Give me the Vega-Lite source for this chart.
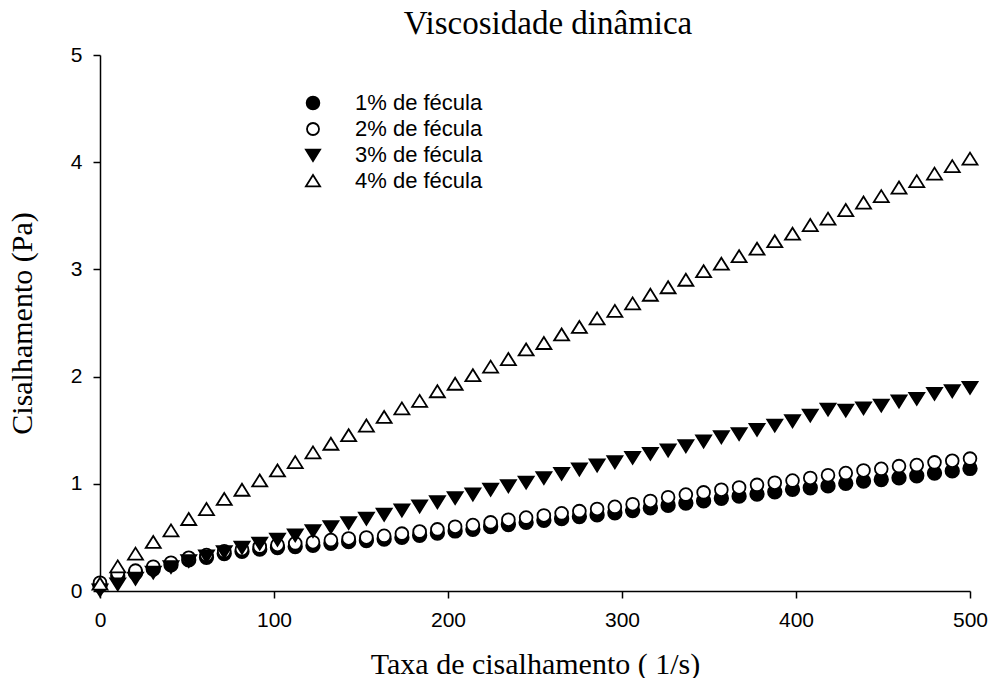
{
  "$schema": "https://vega.github.io/schema/vega-lite/v6.json",
  "autosize": "none",
  "width": 870,
  "height": 536,
  "padding": {"left": 100, "top": 55, "right": 23, "bottom": 87},
  "background": "white",
  "title": {"text": "Viscosidade dinâmica", "font": "Liberation Serif", "fontSize": 33, "fontWeight": "normal", "color": "black", "anchor": "middle", "dx": 13, "offset": 3},
  "config": {
    "view": {"stroke": null},
    "axis": {"domainColor": "black", "domainWidth": 1.5, "tickColor": "black", "tickWidth": 1.5, "tickSize": 7, "grid": false, "labelFlush": false, "labelFont": "Liberation Sans", "labelFontSize": 21, "labelColor": "black", "titleFont": "Liberation Serif", "titleFontSize": 30, "titleFontWeight": "normal", "titleColor": "black"}
  },
  "data": {"values": [
    {"x":0,"y":0.05,"s":"1% de fécula"},{"x":10.2,"y":0.14,"s":"1% de fécula"},{"x":20.4,"y":0.17,"s":"1% de fécula"},{"x":30.6,"y":0.205,"s":"1% de fécula"},{"x":40.8,"y":0.245,"s":"1% de fécula"},{"x":51.0,"y":0.29,"s":"1% de fécula"},{"x":61.2,"y":0.315,"s":"1% de fécula"},{"x":71.4,"y":0.35,"s":"1% de fécula"},{"x":81.6,"y":0.37,"s":"1% de fécula"},{"x":91.8,"y":0.39,"s":"1% de fécula"},
    {"x":102.0,"y":0.405,"s":"1% de fécula"},{"x":112.2,"y":0.415,"s":"1% de fécula"},{"x":122.4,"y":0.425,"s":"1% de fécula"},{"x":132.7,"y":0.445,"s":"1% de fécula"},{"x":142.9,"y":0.46,"s":"1% de fécula"},{"x":153.1,"y":0.47,"s":"1% de fécula"},{"x":163.3,"y":0.485,"s":"1% de fécula"},{"x":173.5,"y":0.50,"s":"1% de fécula"},{"x":183.7,"y":0.52,"s":"1% de fécula"},{"x":193.9,"y":0.54,"s":"1% de fécula"},
    {"x":204.1,"y":0.56,"s":"1% de fécula"},{"x":214.3,"y":0.575,"s":"1% de fécula"},{"x":224.5,"y":0.60,"s":"1% de fécula"},{"x":234.7,"y":0.62,"s":"1% de fécula"},{"x":244.9,"y":0.64,"s":"1% de fécula"},{"x":255.1,"y":0.66,"s":"1% de fécula"},{"x":265.3,"y":0.675,"s":"1% de fécula"},{"x":275.5,"y":0.695,"s":"1% de fécula"},{"x":285.7,"y":0.71,"s":"1% de fécula"},{"x":295.9,"y":0.73,"s":"1% de fécula"},
    {"x":306.1,"y":0.75,"s":"1% de fécula"},{"x":316.3,"y":0.775,"s":"1% de fécula"},{"x":326.5,"y":0.80,"s":"1% de fécula"},{"x":336.7,"y":0.82,"s":"1% de fécula"},{"x":346.9,"y":0.84,"s":"1% de fécula"},{"x":357.1,"y":0.865,"s":"1% de fécula"},{"x":367.3,"y":0.885,"s":"1% de fécula"},{"x":377.6,"y":0.904,"s":"1% de fécula"},{"x":387.8,"y":0.925,"s":"1% de fécula"},{"x":398.0,"y":0.948,"s":"1% de fécula"},
    {"x":408.2,"y":0.963,"s":"1% de fécula"},{"x":418.4,"y":0.98,"s":"1% de fécula"},{"x":428.6,"y":1.004,"s":"1% de fécula"},{"x":438.8,"y":1.025,"s":"1% de fécula"},{"x":449.0,"y":1.04,"s":"1% de fécula"},{"x":459.2,"y":1.056,"s":"1% de fécula"},{"x":469.4,"y":1.075,"s":"1% de fécula"},{"x":479.6,"y":1.10,"s":"1% de fécula"},{"x":489.8,"y":1.12,"s":"1% de fécula"},{"x":500.0,"y":1.143,"s":"1% de fécula"},

    {"x":0,"y":0.077,"s":"2% de fécula"},{"x":10.2,"y":0.165,"s":"2% de fécula"},{"x":20.4,"y":0.19,"s":"2% de fécula"},{"x":30.6,"y":0.227,"s":"2% de fécula"},{"x":40.8,"y":0.264,"s":"2% de fécula"},{"x":51.0,"y":0.31,"s":"2% de fécula"},{"x":61.2,"y":0.335,"s":"2% de fécula"},{"x":71.4,"y":0.37,"s":"2% de fécula"},{"x":81.6,"y":0.39,"s":"2% de fécula"},{"x":91.8,"y":0.415,"s":"2% de fécula"},
    {"x":102.0,"y":0.43,"s":"2% de fécula"},{"x":112.2,"y":0.445,"s":"2% de fécula"},{"x":122.4,"y":0.455,"s":"2% de fécula"},{"x":132.7,"y":0.475,"s":"2% de fécula"},{"x":142.9,"y":0.49,"s":"2% de fécula"},{"x":153.1,"y":0.50,"s":"2% de fécula"},{"x":163.3,"y":0.515,"s":"2% de fécula"},{"x":173.5,"y":0.535,"s":"2% de fécula"},{"x":183.7,"y":0.555,"s":"2% de fécula"},{"x":193.9,"y":0.575,"s":"2% de fécula"},
    {"x":204.1,"y":0.60,"s":"2% de fécula"},{"x":214.3,"y":0.615,"s":"2% de fécula"},{"x":224.5,"y":0.64,"s":"2% de fécula"},{"x":234.7,"y":0.665,"s":"2% de fécula"},{"x":244.9,"y":0.685,"s":"2% de fécula"},{"x":255.1,"y":0.705,"s":"2% de fécula"},{"x":265.3,"y":0.725,"s":"2% de fécula"},{"x":275.5,"y":0.745,"s":"2% de fécula"},{"x":285.7,"y":0.765,"s":"2% de fécula"},{"x":295.9,"y":0.785,"s":"2% de fécula"},
    {"x":306.1,"y":0.81,"s":"2% de fécula"},{"x":316.3,"y":0.84,"s":"2% de fécula"},{"x":326.5,"y":0.875,"s":"2% de fécula"},{"x":336.7,"y":0.90,"s":"2% de fécula"},{"x":346.9,"y":0.92,"s":"2% de fécula"},{"x":357.1,"y":0.945,"s":"2% de fécula"},{"x":367.3,"y":0.966,"s":"2% de fécula"},{"x":377.6,"y":0.99,"s":"2% de fécula"},{"x":387.8,"y":1.01,"s":"2% de fécula"},{"x":398.0,"y":1.03,"s":"2% de fécula"},
    {"x":408.2,"y":1.055,"s":"2% de fécula"},{"x":418.4,"y":1.08,"s":"2% de fécula"},{"x":428.6,"y":1.10,"s":"2% de fécula"},{"x":438.8,"y":1.125,"s":"2% de fécula"},{"x":449.0,"y":1.14,"s":"2% de fécula"},{"x":459.2,"y":1.165,"s":"2% de fécula"},{"x":469.4,"y":1.175,"s":"2% de fécula"},{"x":479.6,"y":1.20,"s":"2% de fécula"},{"x":489.8,"y":1.215,"s":"2% de fécula"},{"x":500.0,"y":1.235,"s":"2% de fécula"},

    {"x":0,"y":0.01,"s":"3% de fécula"},{"x":10.2,"y":0.065,"s":"3% de fécula"},{"x":20.4,"y":0.118,"s":"3% de fécula"},{"x":30.6,"y":0.175,"s":"3% de fécula"},{"x":40.8,"y":0.226,"s":"3% de fécula"},{"x":51.0,"y":0.282,"s":"3% de fécula"},{"x":61.2,"y":0.326,"s":"3% de fécula"},{"x":71.4,"y":0.366,"s":"3% de fécula"},{"x":81.6,"y":0.407,"s":"3% de fécula"},{"x":91.8,"y":0.445,"s":"3% de fécula"},
    {"x":102.0,"y":0.482,"s":"3% de fécula"},{"x":112.2,"y":0.522,"s":"3% de fécula"},{"x":122.4,"y":0.562,"s":"3% de fécula"},{"x":132.7,"y":0.599,"s":"3% de fécula"},{"x":142.9,"y":0.637,"s":"3% de fécula"},{"x":153.1,"y":0.678,"s":"3% de fécula"},{"x":163.3,"y":0.715,"s":"3% de fécula"},{"x":173.5,"y":0.755,"s":"3% de fécula"},{"x":183.7,"y":0.792,"s":"3% de fécula"},{"x":193.9,"y":0.832,"s":"3% de fécula"},
    {"x":204.1,"y":0.870,"s":"3% de fécula"},{"x":214.3,"y":0.904,"s":"3% de fécula"},{"x":224.5,"y":0.948,"s":"3% de fécula"},{"x":234.7,"y":0.981,"s":"3% de fécula"},{"x":244.9,"y":1.015,"s":"3% de fécula"},{"x":255.1,"y":1.056,"s":"3% de fécula"},{"x":265.3,"y":1.097,"s":"3% de fécula"},{"x":275.5,"y":1.137,"s":"3% de fécula"},{"x":285.7,"y":1.174,"s":"3% de fécula"},{"x":295.9,"y":1.205,"s":"3% de fécula"},
    {"x":306.1,"y":1.246,"s":"3% de fécula"},{"x":316.3,"y":1.283,"s":"3% de fécula"},{"x":326.5,"y":1.314,"s":"3% de fécula"},{"x":336.7,"y":1.354,"s":"3% de fécula"},{"x":346.9,"y":1.398,"s":"3% de fécula"},{"x":357.1,"y":1.438,"s":"3% de fécula"},{"x":367.3,"y":1.467,"s":"3% de fécula"},{"x":377.6,"y":1.507,"s":"3% de fécula"},{"x":387.8,"y":1.547,"s":"3% de fécula"},{"x":398.0,"y":1.587,"s":"3% de fécula"},
    {"x":408.2,"y":1.640,"s":"3% de fécula"},{"x":418.4,"y":1.696,"s":"3% de fécula"},{"x":428.6,"y":1.687,"s":"3% de fécula"},{"x":438.8,"y":1.708,"s":"3% de fécula"},{"x":449.0,"y":1.733,"s":"3% de fécula"},{"x":459.2,"y":1.771,"s":"3% de fécula"},{"x":469.4,"y":1.796,"s":"3% de fécula"},{"x":479.6,"y":1.842,"s":"3% de fécula"},{"x":489.8,"y":1.867,"s":"3% de fécula"},{"x":500.0,"y":1.898,"s":"3% de fécula"},

    {"x":0,"y":0.065,"s":"4% de fécula"},{"x":10.2,"y":0.226,"s":"4% de fécula"},{"x":20.4,"y":0.345,"s":"4% de fécula"},{"x":30.6,"y":0.454,"s":"4% de fécula"},{"x":40.8,"y":0.562,"s":"4% de fécula"},{"x":51.0,"y":0.668,"s":"4% de fécula"},{"x":61.2,"y":0.761,"s":"4% de fécula"},{"x":71.4,"y":0.855,"s":"4% de fécula"},{"x":81.6,"y":0.941,"s":"4% de fécula"},{"x":91.8,"y":1.028,"s":"4% de fécula"},
    {"x":102.0,"y":1.121,"s":"4% de fécula"},{"x":112.2,"y":1.199,"s":"4% de fécula"},{"x":122.4,"y":1.29,"s":"4% de fécula"},{"x":132.7,"y":1.37,"s":"4% de fécula"},{"x":142.9,"y":1.45,"s":"4% de fécula"},{"x":153.1,"y":1.54,"s":"4% de fécula"},{"x":163.3,"y":1.62,"s":"4% de fécula"},{"x":173.5,"y":1.70,"s":"4% de fécula"},{"x":183.7,"y":1.77,"s":"4% de fécula"},{"x":193.9,"y":1.86,"s":"4% de fécula"},
    {"x":204.1,"y":1.93,"s":"4% de fécula"},{"x":214.3,"y":2.01,"s":"4% de fécula"},{"x":224.5,"y":2.09,"s":"4% de fécula"},{"x":234.7,"y":2.16,"s":"4% de fécula"},{"x":244.9,"y":2.25,"s":"4% de fécula"},{"x":255.1,"y":2.31,"s":"4% de fécula"},{"x":265.3,"y":2.39,"s":"4% de fécula"},{"x":275.5,"y":2.46,"s":"4% de fécula"},{"x":285.7,"y":2.54,"s":"4% de fécula"},{"x":295.9,"y":2.61,"s":"4% de fécula"},
    {"x":306.1,"y":2.68,"s":"4% de fécula"},{"x":316.3,"y":2.76,"s":"4% de fécula"},{"x":326.5,"y":2.83,"s":"4% de fécula"},{"x":336.7,"y":2.90,"s":"4% de fécula"},{"x":346.9,"y":2.98,"s":"4% de fécula"},{"x":357.1,"y":3.05,"s":"4% de fécula"},{"x":367.3,"y":3.12,"s":"4% de fécula"},{"x":377.6,"y":3.19,"s":"4% de fécula"},{"x":387.8,"y":3.26,"s":"4% de fécula"},{"x":398.0,"y":3.33,"s":"4% de fécula"},
    {"x":408.2,"y":3.41,"s":"4% de fécula"},{"x":418.4,"y":3.47,"s":"4% de fécula"},{"x":428.6,"y":3.55,"s":"4% de fécula"},{"x":438.8,"y":3.62,"s":"4% de fécula"},{"x":449.0,"y":3.68,"s":"4% de fécula"},{"x":459.2,"y":3.76,"s":"4% de fécula"},{"x":469.4,"y":3.82,"s":"4% de fécula"},{"x":479.6,"y":3.89,"s":"4% de fécula"},{"x":489.8,"y":3.96,"s":"4% de fécula"},{"x":500.0,"y":4.03,"s":"4% de fécula"}
  ]},
  "mark": {"type": "point", "filled": true, "strokeWidth": 1.8, "size": 225, "opacity": 1},
  "encoding": {
    "x": {"field": "x", "type": "quantitative", "scale": {"domain": [0, 500], "nice": false}, "axis": {"values": [0, 100, 200, 300, 400, 500], "labelPadding": 11, "title": "Taxa de cisalhamento ( 1/s)", "titlePadding": 19}},
    "y": {"field": "y", "type": "quantitative", "scale": {"domain": [0, 5], "nice": false}, "axis": {"values": [0, 1, 2, 3, 4, 5], "labelPadding": 11, "title": "Cisalhamento (Pa)", "titlePadding": 33}},
    "shape": {"field": "s", "type": "nominal", "scale": {"domain": ["1% de fécula", "2% de fécula", "3% de fécula", "4% de fécula"], "range": ["M0.9,0A0.9,0.9 0 1,1 -0.9,0A0.9,0.9 0 1,1 0.9,0Z", "M0.85,0A0.85,0.85 0 1,1 -0.85,0A0.85,0.85 0 1,1 0.85,0Z", "M-1,-0.75L1,-0.75L0,0.85Z", "M-1,0.75L1,0.75L0,-0.85Z"]},
      "legend": {"orient": "none", "legendX": 202, "legendY": 37, "title": null, "padding": 0, "labelFont": "Liberation Sans", "labelFontSize": 22, "labelColor": "black", "labelOffset": 31, "rowPadding": 4, "symbolSize": 200, "symbolStrokeWidth": 1.8}},
    "fill": {"field": "s", "type": "nominal", "scale": {"domain": ["1% de fécula", "2% de fécula", "3% de fécula", "4% de fécula"], "range": ["black", "white", "black", "white"]}},
    "stroke": {"field": "s", "type": "nominal", "scale": {"domain": ["1% de fécula", "2% de fécula", "3% de fécula", "4% de fécula"], "range": ["black", "black", "black", "black"]}},
    "order": {"field": "s", "type": "nominal"}
  }
}
